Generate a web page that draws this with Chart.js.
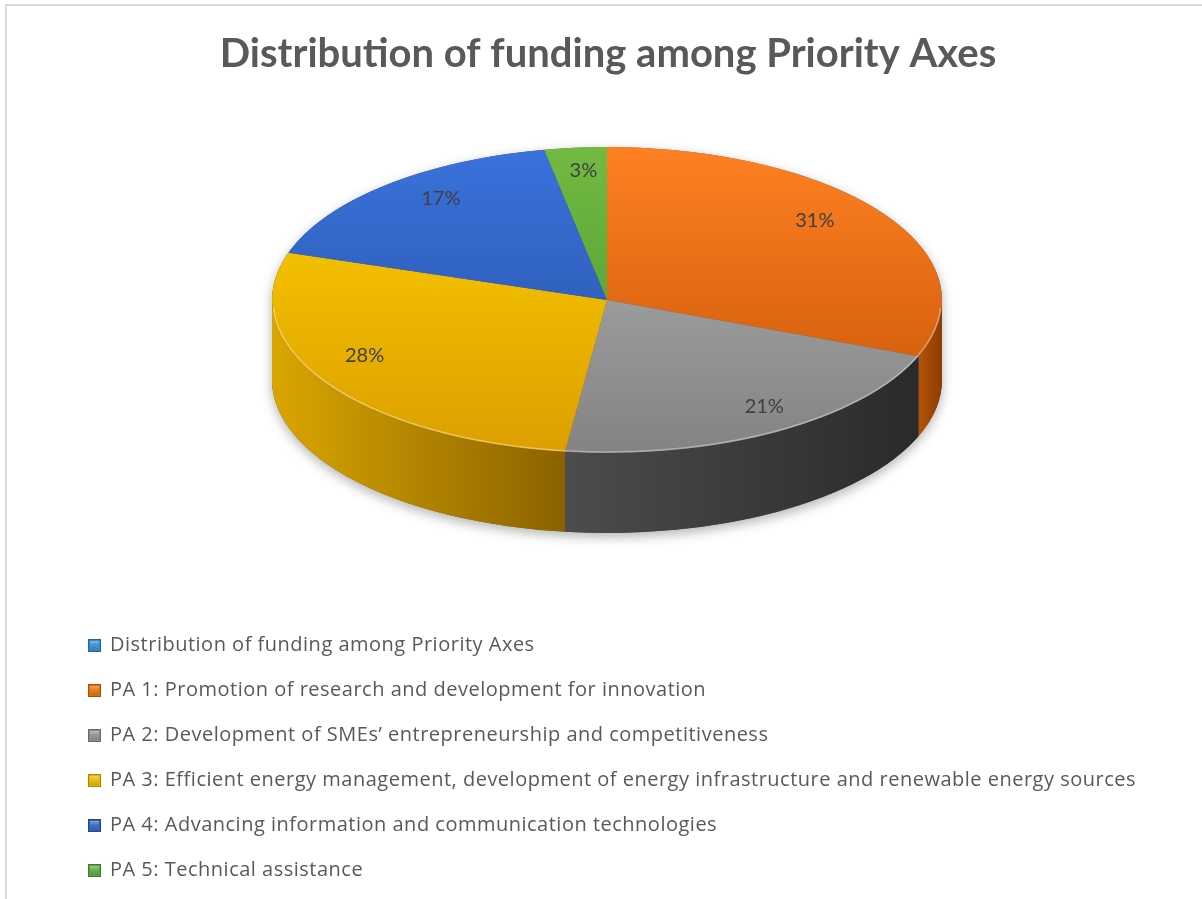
<!DOCTYPE html>
<html>
<head>
<meta charset="utf-8">
<title>Distribution of funding among Priority Axes</title>
<script src="https://cdn.jsdelivr.net/npm/chart.js@4.4.1/dist/chart.umd.min.js"></script>
<style>
  html, body { margin: 0; padding: 0; background: #ffffff; }
  canvas { display: block; }
</style>
</head>
<body>
<canvas id="chart" width="1202" height="899"></canvas>
<script>
// ---- data ----
const chartTitle = 'Distribution of funding among Priority Axes';
const seriesName = 'Distribution of funding among Priority Axes';
const categories = [
  'PA 1: Promotion of research and development for innovation',
  'PA 2: Development of SMEs’ entrepreneurship and competitiveness',
  'PA 3: Efficient energy management, development of energy infrastructure and renewable energy sources',
  'PA 4: Advancing information and communication technologies',
  'PA 5: Technical assistance'
];
const shares = [31, 21, 28, 17, 3];

// ---- styling ----
const faceShades = [            // top face: light (back) -> dark (front)
  ['#ff8022', '#c55406'],
  ['#b3b3b3', '#838383'],
  ['#ffd000', '#dc9f00'],
  ['#3a72dc', '#24509f'],
  ['#72ba42', '#4a9430']
];
const wallShades = [            // side wall: left -> right
  ['#b55208', '#8c3d02'],
  ['#4c4c4c', '#2a2a2a'],
  ['#dba600', '#8a6200'],
  ['#2a4f98', '#1e3a70'],
  ['#4d8c2c', '#3a6e20']
];
const seriesKeyColor = '#2f88cc';
const keyColors = ['#e36c0a', '#8c8c8c', '#e8b400', '#2e60bb', '#57a53a'];
const textGrey = '#595959';
const labelGrey = '#404040';
const TITLE_FONT = 'Lato, "Open Sans", "Liberation Sans", sans-serif';
const KEY_FONT = '"Open Sans", Lato, "Liberation Sans", sans-serif';

// tilted-disc geometry on screen
const PIE = { cx: 607, cy: 300, r: 335, ry: 153, depth: 80 };

function normalise(a) {
  const t = Math.PI * 2;
  return ((a % t) + t) % t;
}

// page frame + white background
const framePlugin = {
  id: 'frame',
  beforeDraw(chart) {
    const ctx = chart.ctx;
    ctx.save();
    ctx.fillStyle = '#ffffff';
    ctx.fillRect(0, 0, chart.width, chart.height);
    ctx.fillStyle = '#d9d9d9';
    ctx.fillRect(5, 4, chart.width - 5, 2);
    ctx.fillRect(5, 4, 2, chart.height - 4);
    ctx.restore();
  }
};

// draws the extruded side of the disc, then squashes the library's arcs into the top face
const pie3dPlugin = {
  id: 'pie3d',
  beforeDatasetsDraw(chart) {
    const ctx = chart.ctx;
    const arcs = chart.getDatasetMeta(0).data;
    if (!arcs.length) return;
    const { cx, cy, r, ry, depth } = PIE;

    // soft shadow under the whole disc
    ctx.save();
    ctx.shadowColor = 'rgba(0,0,0,0.30)';
    ctx.shadowBlur = 12;
    ctx.shadowOffsetY = 4;
    ctx.fillStyle = '#555555';
    ctx.beginPath();
    ctx.ellipse(cx, cy, r, ry, 0, Math.PI, Math.PI * 2);
    ctx.lineTo(cx + r, cy + depth);
    ctx.ellipse(cx, cy + depth, r, ry, 0, 0, Math.PI);
    ctx.closePath();
    ctx.fill();
    ctx.restore();

    // walls of the slices facing the viewer
    arcs.forEach((arc, i) => {
      const span = arc.endAngle - arc.startAngle;
      const a1 = normalise(arc.startAngle);
      [-Math.PI * 2, 0, Math.PI * 2].forEach(k => {
        const lo = Math.max(a1 + k, 0);
        const hi = Math.min(a1 + span + k, Math.PI);
        if (hi <= lo) return;
        const x1 = cx + r * Math.cos(lo);
        const x2 = cx + r * Math.cos(hi);
        const g = ctx.createLinearGradient(Math.min(x1, x2), 0, Math.max(x1, x2), 0);
        g.addColorStop(0, wallShades[i][0]);
        g.addColorStop(1, wallShades[i][1]);
        ctx.save();
        ctx.fillStyle = g;
        ctx.beginPath();
        ctx.ellipse(cx, cy, r, ry, 0, lo, hi);
        ctx.lineTo(cx + r * Math.cos(hi), cy + ry * Math.sin(hi) + depth);
        ctx.ellipse(cx, cy + depth, r, ry, 0, hi, lo, true);
        ctx.closePath();
        ctx.fill();
        ctx.restore();
      });
    });

    // squash the round pie into the tilted top face
    const a = arcs[0];
    ctx.save();
    ctx.translate(cx, cy);
    ctx.scale(1, ry / r);
    ctx.translate(-a.x, -a.y);
  },
  afterDatasetsDraw(chart) {
    const ctx = chart.ctx;
    const arcs = chart.getDatasetMeta(0).data;
    if (!arcs.length) return;
    ctx.restore();
    const { cx, cy, r, ry } = PIE;

    // light rim along the front edge of the top face
    ctx.save();
    ctx.strokeStyle = 'rgba(255,255,255,0.35)';
    ctx.lineWidth = 1.5;
    ctx.beginPath();
    ctx.ellipse(cx, cy, r - 1, ry - 1, 0, 0.05, Math.PI - 0.05);
    ctx.stroke();
    ctx.restore();

    // percentage labels
    const total = shares.reduce((s, v) => s + v, 0);
    ctx.save();
    ctx.font = '20px ' + TITLE_FONT;
    ctx.fillStyle = labelGrey;
    ctx.textAlign = 'center';
    ctx.textBaseline = 'middle';
    arcs.forEach((arc, i) => {
      const mid = (arc.startAngle + arc.endAngle) / 2;
      const s = Math.sin(mid);
      const f = 0.75 + 0.2 * Math.max(0, s); // nearer (front) part of the disc looks larger
      const x = cx + r * f * Math.cos(mid);
      const y = cy + ry * f * s - 15;
      ctx.fillText(Math.round(shares[i] / total * 100) + '%', x, y);
    });
    ctx.restore();
  }
};

// vertical legend below the disc
const keyPlugin = {
  id: 'stackedKey',
  afterDraw(chart) {
    const ctx = chart.ctx;
    const items = [{ text: seriesName, color: seriesKeyColor }]
      .concat(chart.data.labels.map((t, i) => ({ text: t, color: keyColors[i] })));
    const top = 645, step = 45, bx = 88, size = 13, tx = 110;
    ctx.save();
    ctx.font = '20px ' + KEY_FONT;
    ctx.letterSpacing = '0.5px';
    ctx.textBaseline = 'middle';
    ctx.textAlign = 'left';
    items.forEach((it, i) => {
      const y = top + i * step;
      const by = Math.round(y - size / 2);
      const g = ctx.createLinearGradient(0, by, 0, by + size);
      g.addColorStop(0, 'rgba(255,255,255,0.55)');
      g.addColorStop(0.45, 'rgba(255,255,255,0.1)');
      g.addColorStop(1, 'rgba(0,0,0,0.2)');
      ctx.fillStyle = it.color;
      ctx.fillRect(bx, by, size, size);
      ctx.fillStyle = g;
      ctx.fillRect(bx + 2, by + 2, size - 4, size - 4);
      ctx.strokeStyle = 'rgba(0,0,0,0.25)';
      ctx.lineWidth = 1;
      ctx.strokeRect(bx + 0.5, by + 0.5, size - 1, size - 1);
      ctx.fillStyle = textGrey;
      ctx.fillText(it.text, tx, y);
    });
    ctx.restore();
  }
};

new Chart(document.getElementById('chart'), {
  type: 'pie',
  data: {
    labels: categories,
    datasets: [{
      label: seriesName,
      data: shares,
      borderWidth: 0,
      clip: false,
      backgroundColor: (c) => {
        const ca = c.chart.chartArea;
        const shade = faceShades[c.dataIndex % faceShades.length];
        if (!ca) return shade[0];
        const my = (ca.top + ca.bottom) / 2;
        const g = c.chart.ctx.createLinearGradient(0, my - PIE.r, 0, my + PIE.r);
        g.addColorStop(0, shade[0]);
        g.addColorStop(1, shade[1]);
        return g;
      }
    }]
  },
  options: {
    responsive: false,
    animation: false,
    devicePixelRatio: 1,
    radius: PIE.r,
    layout: { padding: { left: 14, right: 0, top: 0, bottom: 0 } },
    events: [],
    plugins: {
      legend: { display: false },
      tooltip: { enabled: false },
      title: {
        display: true,
        text: chartTitle,
        color: textGrey,
        font: { family: TITLE_FONT, size: 40, weight: 'bold', lineHeight: 1.2 },
        padding: { top: 30, bottom: 10 }
      }
    }
  },
  plugins: [framePlugin, pie3dPlugin, keyPlugin]
});
</script>
</body>
</html>
